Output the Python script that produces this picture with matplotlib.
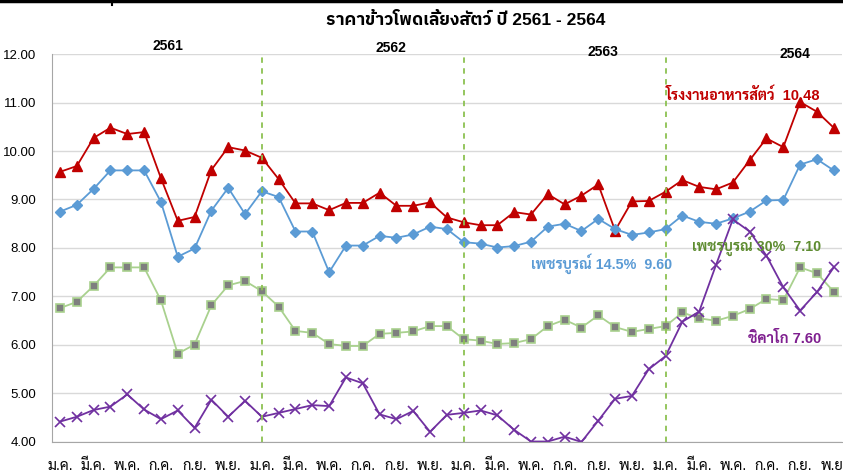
import numpy as np
import matplotlib
matplotlib.use("Agg")
from matplotlib import pyplot as plt
from matplotlib.lines import Line2D

months = ['ม.ค.', 'ก.พ.', 'มี.ค.', 'เม.ย.', 'พ.ค.', 'มิ.ย.',
          'ก.ค.', 'ส.ค.', 'ก.ย.', 'ต.ค.', 'พ.ย.', 'ธ.ค.']
years = ['2561', '2562', '2563', '2564']

feed_mill = [9.57, 9.69, 10.27, 10.48, 10.35, 10.39, 9.44, 8.56, 8.64, 9.61, 10.08, 10.01,
             9.86, 9.42, 8.92, 8.92, 8.78, 8.93, 8.93, 9.14, 8.87, 8.87, 8.94, 8.63,
             8.53, 8.47, 8.47, 8.74, 8.69, 9.11, 8.90, 9.08, 9.31, 8.36, 8.96, 8.97,
             9.16, 9.40, 9.26, 9.21, 9.35, 9.81, 10.26, 10.08, 11.01, 10.81, 10.48]
phet_145 = [8.75, 8.89, 9.22, 9.60, 9.60, 9.60, 8.95, 7.82, 7.99, 8.77, 9.24, 8.70,
            9.17, 9.05, 8.34, 8.34, 7.50, 8.05, 8.05, 8.25, 8.21, 8.28, 8.44, 8.39,
            8.12, 8.09, 8.01, 8.04, 8.13, 8.44, 8.50, 8.35, 8.60, 8.39, 8.27, 8.32,
            8.39, 8.67, 8.54, 8.50, 8.61, 8.75, 8.98, 8.99, 9.72, 9.83, 9.60]
phet_30 = [6.76, 6.89, 7.22, 7.60, 7.60, 7.60, 6.92, 5.82, 6.01, 6.82, 7.23, 7.32,
           7.11, 6.79, 6.29, 6.25, 6.02, 5.98, 5.98, 6.23, 6.25, 6.28, 6.39, 6.39,
           6.12, 6.09, 6.02, 6.04, 6.12, 6.39, 6.52, 6.36, 6.61, 6.37, 6.27, 6.33,
           6.39, 6.67, 6.55, 6.50, 6.60, 6.74, 6.95, 6.92, 7.60, 7.48, 7.10]
chicago = [4.42, 4.52, 4.66, 4.73, 4.98, 4.67, 4.47, 4.65, 4.29, 4.87, 4.52, 4.85,
           4.52, 4.60, 4.68, 4.76, 4.74, 5.33, 5.21, 4.57, 4.47, 4.64, 4.21, 4.56,
           4.60, 4.65, 4.55, 4.25, 4.01, 4.01, 4.11, 4.00, 4.44, 4.89, 4.95, 5.50,
           5.77, 6.48, 6.69, 7.65, 8.59, 8.34, 7.84, 7.19, 6.71, 7.09, 7.60]

# digits from an Arial-like face, Thai glyphs from the next family in the list
plt.rcParams['font.family'] = ['Liberation Sans', 'Sarabun', 'Noto Sans Thai Looped',
                               'DejaVu Sans']
title_family = ['Liberation Sans', 'IBM Plex Sans Thai', 'Noto Sans Thai', 'DejaVu Sans']

n = len(feed_mill)
x = np.arange(n)
labels = [months[i % 12] for i in range(n)]

fig = plt.figure(figsize=(8.43, 4.75), dpi=100)
ax = fig.add_axes([0.0612, 0.0695, 0.9378, 0.8168])

ax.plot(x, feed_mill, '-^', color='#C00000', lw=1.3, ms=7)
ax.plot(x, phet_145, '-D', color='#5B9BD5', lw=1.3, ms=5.5)
ax.plot(x, phet_30, '-s', color='#A9D18E', lw=1.3, ms=6,
        mfc='#7F7F7F', mec='#A9D18E', mew=1.2)
ax.plot(x, chicago, '-x', color='#7030A0', lw=1.3, ms=7, mew=1.2)

for k in range(1, len(years)):
    ax.axvline(12 * k, color='#8CC152', ls=(0, (3, 3)), lw=1.3)

ax.set_xlim(-0.5, n - 0.5)
ax.set_ylim(4, 12)
ax.set_yticks(np.arange(4, 12.1, 1))
ax.set_yticklabels(['%.2f' % v for v in np.arange(4, 12.1, 1)], fontsize=9.5)
ax.set_xticks(x[::2])
ax.set_xticklabels(labels[::2], fontsize=10.5)
ax.tick_params(axis='y', length=0, pad=11)
ax.tick_params(axis='x', length=0, pad=12)
ax.grid(axis='y', color='#D9D9D9', lw=1)
ax.set_axisbelow(True)
for s in ['top', 'right']:
    ax.spines[s].set_visible(False)
for s in ['left', 'bottom']:
    ax.spines[s].set_color('#A6A6A6')

# year labels
for xx, yy, yr in zip([6.4, 19.7, 32.3, 43.7], [12.16, 12.12, 12.04, 12.0], years):
    ax.text(xx, yy, yr, ha='center', va='center',
            fontsize=10, fontweight='bold', clip_on=False)

ax.text(36.0, 11.15, 'โรงงานอาหารสัตว์  10.48', color='#C00000',
        fontsize=10.5, fontweight='bold', va='center')
ax.text(28.0, 7.68, 'เพชรบูรณ์ 14.5%  9.60', color='#5B9BD5',
        fontsize=10.3, fontweight='bold', va='center')
ax.text(37.6, 8.04, 'เพชรบูรณ์ 30%  7.10', color='#5E8C31',
        fontsize=10.3, fontweight='bold', va='center')
ax.text(40.9, 6.13, 'ชิคาโก 7.60', color='#7F1F8F',
        fontsize=10.5, fontweight='bold', va='center')

fig.text(0.552, 0.957, 'ราคาข้าวโพดเลี้ยงสัตว์ ปี 2561 - 2564', ha='center',
         va='center', fontsize=12.5, fontweight='bold', family=title_family)

# table border from the source page
fig.add_artist(Line2D([0, 1], [0.997, 0.997], color='black', lw=2.5))
fig.add_artist(Line2D([112 / 843, 112 / 843], [0.99, 1.0], color='black', lw=1.5))

fig.savefig('out.png', dpi=100)
